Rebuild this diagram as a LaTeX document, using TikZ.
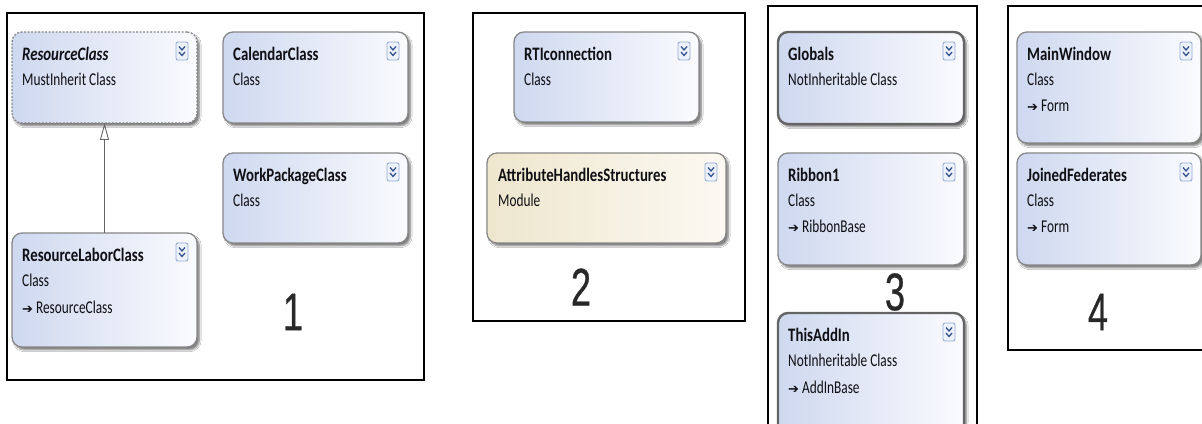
\documentclass[tikz,border=0pt]{standalone}
\usepackage{fontspec}
\usetikzlibrary{shadows.blur,arrows.meta,calc}
\newfontfamily\boxfont[FakeStretch=0.78]{Carlito}
\newfontfamily\subfont[FakeStretch=0.74]{Carlito}
\newfontfamily\numfont[FakeStretch=0.68,FakeBold=0.6]{Liberation Sans}
\newfontfamily\symfont{DejaVu Sans}
\definecolor{boxblue}{RGB}{206,216,239}
\definecolor{boxwhite}{RGB}{250,251,254}
\definecolor{creamleft}{RGB}{238,230,205}
\definecolor{creamright}{RGB}{251,249,242}
\definecolor{boxgray}{RGB}{135,135,135}
\definecolor{boxdark}{RGB}{100,100,100}
\definecolor{chevborder}{RGB}{150,172,212}
\definecolor{chevfill}{RGB}{236,241,250}
\definecolor{chevline}{RGB}{55,85,145}
\definecolor{txtdark}{RGB}{15,15,20}
\definecolor{numgray}{RGB}{40,40,40}
\newcommand\arrglyph{{\symfont\fontsize{13}{13}\selectfont ➔}}
\newcommand\chev[1]{%
  \draw[chevbox] ([shift={(-21pt,-10pt)}]#1.north east) rectangle ++(12pt,-18pt);
  \draw[chevstroke] ([shift={(-18pt,-14.5pt)}]#1.north east) -- ++(3pt,-3.5pt) -- ++(3pt,3.5pt);
  \draw[chevstroke] ([shift={(-18pt,-20pt)}]#1.north east) -- ++(3pt,-3.5pt) -- ++(3pt,3.5pt);
}
\tikzset{
  umlbox/.style={draw=boxgray, line width=1.3pt, rounded corners=10pt,
    left color=boxblue, right color=boxwhite, anchor=north west,
    inner sep=0pt, outer sep=0pt,
    blur shadow={shadow xshift=2.5pt, shadow yshift=-3pt, shadow blur steps=6, shadow opacity=50}},
  thickbox/.style={draw=boxdark, line width=2.4pt},
  modbox/.style={left color=creamleft, right color=creamright},
  dashbox/.style={dash pattern=on 2pt off 1.5pt},
  ttl/.style={anchor=base west, inner sep=0pt, text=txtdark, font=\boxfont\bfseries\fontsize{19}{19}\selectfont},
  sub/.style={anchor=base west, inner sep=0pt, text=txtdark, font=\subfont\fontsize{18}{18}\selectfont},
  num/.style={anchor=center, inner sep=0pt, text=numgray, font=\numfont\fontsize{53}{53}\selectfont},
  panel/.style={draw=black, line width=2.4pt},
  chevbox/.style={draw=chevborder, fill=chevfill, line width=0.9pt, rounded corners=2pt},
  chevstroke/.style={draw=chevline, line width=1.3pt},
  inh/.style={draw=boxdark, line width=0.9pt, -{Triangle[open, length=17pt, width=9pt]}}
}
\begin{document}
\begin{tikzpicture}[x=1pt,y=1pt]
\clip (0,0) rectangle (1202,423);
\fill[white] (0,0) rectangle (1202,423);
% panels
\draw[panel] (7,410) rectangle (424,43);
\draw[panel] (473,410) rectangle (745,102);
\draw[panel] (768,417) rectangle (977,-20);
\draw[panel] (1008,417) rectangle (1230,73);

% panel 1
\node[umlbox, dashbox, minimum width=185pt, minimum height=91pt] (rc) at (12,391) {};
\node[umlbox, minimum width=185pt, minimum height=91pt] (cal) at (223,391) {};
\node[umlbox, minimum width=185pt, minimum height=90pt] (wp) at (223,270) {};
\node[umlbox, minimum width=185pt, minimum height=114pt] (rl) at (12,190) {};
\draw[inh] (rl.north) -- (rc.south);
\node[num] (n1) at (293,111) {1};

% panel 2
\node[umlbox, minimum width=185pt, minimum height=90pt] (rti) at (514,391) {};
\node[umlbox, modbox, minimum width=239pt, minimum height=90pt] (ahs) at (487,270) {};
\node[num] (n2) at (581,136) {2};

% panel 3
\node[umlbox, thickbox, minimum width=186pt, minimum height=92pt] (glob) at (778,391) {};
\node[umlbox, minimum width=186pt, minimum height=112pt] (rib) at (778,270) {};
\node[umlbox, thickbox, minimum width=186pt, minimum height=125pt] (tai) at (778,110) {};
\node[num] (n3) at (895,131) {3};

% panel 4
\node[umlbox, minimum width=184pt, minimum height=111pt] (mw) at (1017,391) {};
\node[umlbox, minimum width=184pt, minimum height=112pt] (jf) at (1017,270) {};
\node[num] (n4) at (1098,111) {4};

% texts
\node[ttl] (rc-t) at ([shift={(10pt,-29pt)}]rc.north west) {\itshape ResourceClass};
\node[sub] (rc-s) at ([shift={(10pt,-54pt)}]rc.north west) {MustInherit Class};
\node[ttl] (cal-t) at ([shift={(10pt,-29pt)}]cal.north west) {CalendarClass};
\node[sub] (cal-s) at ([shift={(10pt,-54pt)}]cal.north west) {Class};
\node[ttl] (wp-t) at ([shift={(10pt,-29pt)}]wp.north west) {WorkPackageClass};
\node[sub] (wp-s) at ([shift={(10pt,-54pt)}]wp.north west) {Class};
\node[ttl] (rl-t) at ([shift={(10pt,-29pt)}]rl.north west) {ResourceLaborClass};
\node[sub] (rl-s) at ([shift={(10pt,-54pt)}]rl.north west) {Class};
\node[sub] (rl-b) at ([shift={(10pt,-81pt)}]rl.north west) {\arrglyph\ ResourceClass};

\node[ttl] (rti-t) at ([shift={(10pt,-29pt)}]rti.north west) {RTIconnection};
\node[sub] (rti-s) at ([shift={(10pt,-54pt)}]rti.north west) {Class};
\node[ttl] (ahs-t) at ([shift={(11pt,-29pt)}]ahs.north west) {AttributeHandlesStructures};
\node[sub] (ahs-s) at ([shift={(11pt,-54pt)}]ahs.north west) {Module};

\node[ttl] (glob-t) at ([shift={(10pt,-29pt)}]glob.north west) {Globals};
\node[sub] (glob-s) at ([shift={(10pt,-54pt)}]glob.north west) {NotInheritable Class};
\node[ttl] (rib-t) at ([shift={(10pt,-29pt)}]rib.north west) {Ribbon1};
\node[sub] (rib-s) at ([shift={(10pt,-54pt)}]rib.north west) {Class};
\node[sub] (rib-b) at ([shift={(10pt,-80pt)}]rib.north west) {\arrglyph\ RibbonBase};
\node[ttl] (tai-t) at ([shift={(10pt,-29pt)}]tai.north west) {ThisAddIn};
\node[sub] (tai-s) at ([shift={(10pt,-54pt)}]tai.north west) {NotInheritable Class};
\node[sub] (tai-b) at ([shift={(10pt,-80pt)}]tai.north west) {\arrglyph\ AddInBase};

\node[ttl] (mw-t) at ([shift={(10pt,-29pt)}]mw.north west) {MainWindow};
\node[sub] (mw-s) at ([shift={(10pt,-54pt)}]mw.north west) {Class};
\node[sub] (mw-b) at ([shift={(10pt,-80pt)}]mw.north west) {\arrglyph\ Form};
\node[ttl] (jf-t) at ([shift={(10pt,-29pt)}]jf.north west) {JoinedFederates};
\node[sub] (jf-s) at ([shift={(10pt,-54pt)}]jf.north west) {Class};
\node[sub] (jf-b) at ([shift={(10pt,-80pt)}]jf.north west) {\arrglyph\ Form};

% chevron icons
\chev{rc}\chev{cal}\chev{wp}\chev{rl}
\chev{rti}\chev{ahs}
\chev{glob}\chev{rib}\chev{tai}
\chev{mw}\chev{jf}
\end{tikzpicture}
\end{document}
